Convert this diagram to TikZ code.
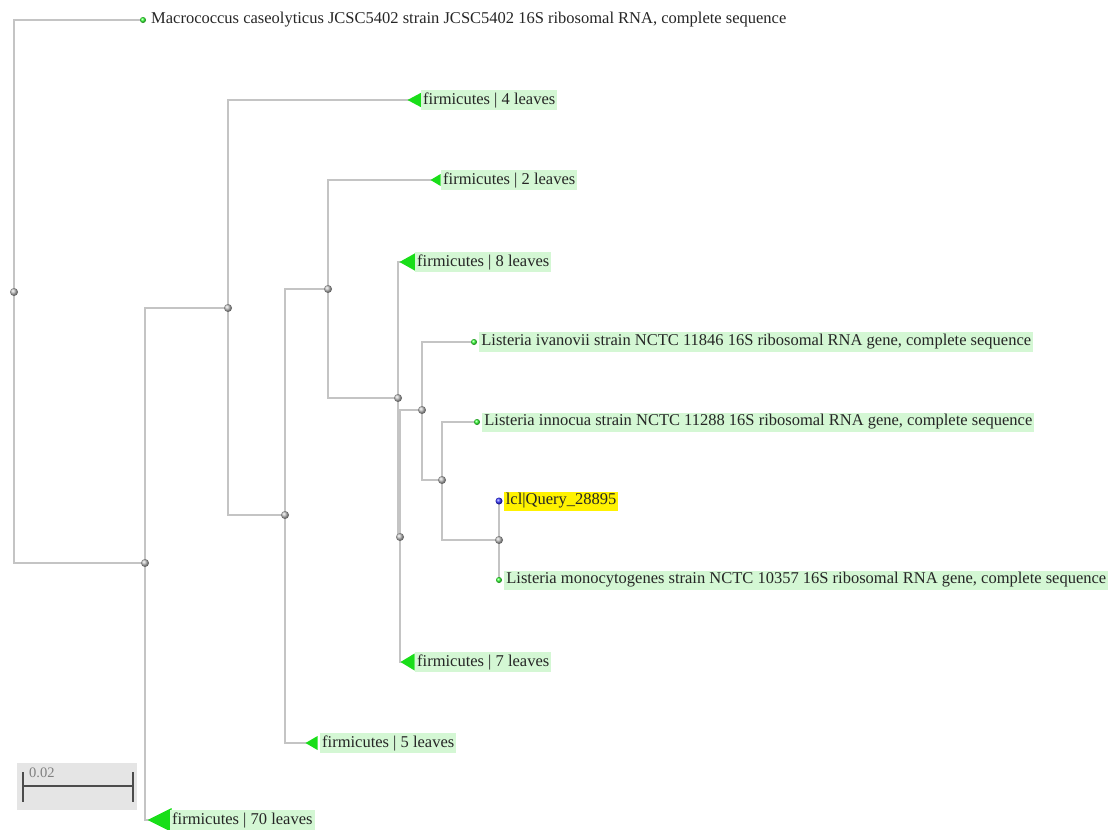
\documentclass[tikz,border=0pt]{standalone}
\usepackage{fontspec}
\setmainfont{Liberation Serif}
\usetikzlibrary{shapes.geometric,positioning,backgrounds}
\definecolor{lineg}{RGB}{196,196,196}
\definecolor{labg}{RGB}{212,247,212}
\definecolor{cladeg}{RGB}{25,222,25}
\begin{document}
\begin{tikzpicture}[x=1pt,y=-1pt,
  branch/.style={draw=lineg, line width=1.3pt},
  inode/.style={circle, inner sep=0pt, minimum size=8pt, ball color=gray!50},
  tip/.style={circle, inner sep=0pt, minimum size=6pt, ball color=green!80},
  clade/.style={isosceles triangle, isosceles triangle stretches, shape border rotate=180,
    anchor=apex, fill=cladeg, inner sep=0pt},
  leaflab/.style={anchor=west, fill=labg, inner sep=2pt, minimum height=19pt,
    text=black!85, font=\fontsize{16.5}{18}\selectfont}]
  \useasboundingbox (0,0) rectangle (1109,830);
  % inner nodes
  \node[inode] (root) at (14,292) {};
  \node[inode] (a) at (145,563) {};
  \node[inode] (b) at (228,308) {};
  \node[inode] (c) at (285,515) {};
  \node[inode] (d) at (328,289) {};
  \node[inode] (e) at (398,398) {};
  \node[inode] (f) at (400,537) {};
  \node[inode] (g) at (422,410) {};
  \node[inode] (h) at (442,480) {};
  \node[inode] (i) at (499,540) {};
  % leaves
  \node[tip] (mac) at (143,20) {};
  \node[anchor=west, inner sep=2pt, text=black!85, font=\fontsize{16.5}{18}\selectfont]
    (macl) at (149,20) {Macrococcus caseolyticus JCSC5402 strain JCSC5402 16S ribosomal RNA, complete sequence};
  \node[clade, minimum width=15pt, minimum height=14pt] (c4) at (407,100) {};
  \node[leaflab] (c4l) at (421,100) {firmicutes | 4 leaves};
  \node[clade, minimum width=12pt, minimum height=10pt] (c2) at (430,180) {};
  \node[leaflab] (c2l) at (441,180) {firmicutes | 2 leaves};
  \node[clade, minimum width=18pt, minimum height=16pt] (c8) at (399,262) {};
  \node[leaflab] (c8l) at (415,262) {firmicutes | 8 leaves};
  \node[tip] (iva) at (474,342) {};
  \node[leaflab, right=2pt of iva] (ival) {Listeria ivanovii strain NCTC 11846 16S ribosomal RNA gene, complete sequence};
  \node[tip] (inn) at (477,422) {};
  \node[leaflab, right=2pt of inn] (innl) {Listeria innocua strain NCTC 11288 16S ribosomal RNA gene, complete sequence};
  \node[tip, minimum size=7pt, ball color=blue!80] (qry) at (499,501) {};
  \node[leaflab, fill=yellow, right=1pt of qry] (qryl) {lcl|Query\_28895};
  \node[tip] (mono) at (499,580) {};
  \node[leaflab, right=2pt of mono] (monol) {Listeria monocytogenes strain NCTC 10357 16S ribosomal RNA gene, complete sequence};
  \node[clade, minimum width=17pt, minimum height=14pt] (c7) at (400,662) {};
  \node[leaflab] (c7l) at (415,662) {firmicutes | 7 leaves};
  \node[clade, minimum width=14pt, minimum height=12pt] (c5) at (305,743) {};
  \node[leaflab] (c5l) at (320,743) {firmicutes | 5 leaves};
  \node[clade, minimum width=24pt, minimum height=24pt] (c70) at (147,820) {};
  \node[leaflab] (c70l) at (170,820) {firmicutes | 70 leaves};
  % branches
  \begin{scope}[on background layer]
    \draw[branch] (root.center) |- (mac.center);
    \draw[branch] (root.center) |- (a.center);
    \draw[branch] (a.center) |- (b.center);
    \draw[branch] (a.center) |- (c70.center);
    \draw[branch] (b.center) |- (c4.center);
    \draw[branch] (b.center) |- (c.center);
    \draw[branch] (c.center) |- (d.center);
    \draw[branch] (c.center) |- (c5.center);
    \draw[branch] (d.center) |- (c2.center);
    \draw[branch] (d.center) |- (e.center);
    \draw[branch] (e.center) |- (c8.center);
    \draw[branch] (e.center) |- (f.center);
    \draw[branch] (f.center) |- (g.center);
    \draw[branch] (f.center) |- (c7.center);
    \draw[branch] (g.center) |- (iva.center);
    \draw[branch] (g.center) |- (h.center);
    \draw[branch] (h.center) |- (inn.center);
    \draw[branch] (h.center) |- (i.center);
    \draw[branch] (i.center) |- (qry.center);
    \draw[branch] (i.center) |- (mono.center);
  \end{scope}
  % scale bar
  \fill[gray!20] (17,763) rectangle (137,810);
  \draw[black!70, line width=2pt] (23,786) -- (133,786);
  \draw[black!70, line width=2pt] (23,772) -- (23,802);
  \draw[black!70, line width=2pt] (133,772) -- (133,802);
  \node[anchor=west, inner sep=0pt, text=gray, font=\fontsize{14.5}{15}\selectfont] (sbar) at (29,773) {0.02};
\end{tikzpicture}
\end{document}
